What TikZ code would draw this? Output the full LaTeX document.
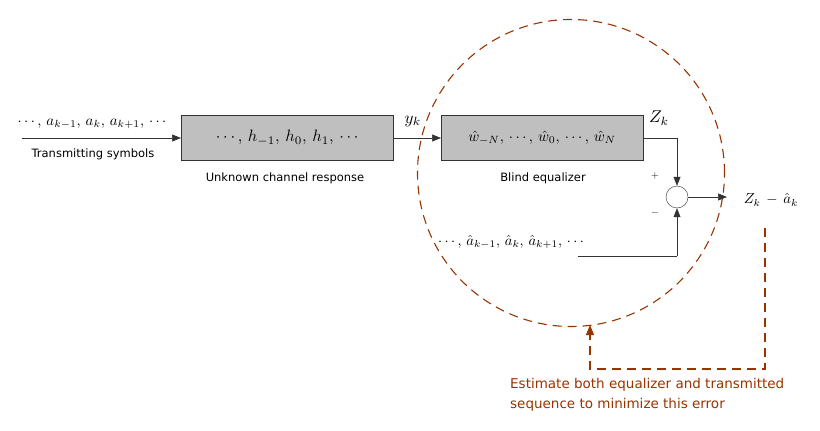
\documentclass[tikz,border=0pt]{standalone}
\usepackage{graphicx}
\usepackage{fontspec}
\setsansfont{DejaVu Sans}
\usetikzlibrary{arrows.meta}
\definecolor{boxgray}{HTML}{BFBFBF}
\definecolor{rust}{HTML}{993300}
\begin{document}
\begin{tikzpicture}[x=1pt,y=-1pt,
  blk/.style={draw=black!80,fill=boxgray,minimum width=#1,minimum height=45pt,inner sep=0pt},
  lbl/.style={font=\sffamily\fontsize{11.5}{13}\selectfont},
  sig/.style={draw=black!80,line width=0.6pt,-{Triangle[length=9pt,width=7pt]}},
  wire/.style={draw=black!80,line width=0.6pt},
  rdash/.style={draw=rust,line width=1.1pt,dash pattern=on 9pt off 6pt}]
\useasboundingbox (0,0) rectangle (820,431);
% dashed circle
\draw[rdash] (571,173) circle[radius=153.5pt];
% input
\coordinate (in) at (22,138);
\node[blk=212pt,anchor=west] (ch) at (181,138) {\scalebox{1.65}{$\cdots,\,h_{-1},\,h_0,\,h_1,\,\cdots$}};
\node[blk=202pt,anchor=west] (eq) at (441,138) {\scalebox{1.5}{$\hat w_{-N},\,\cdots,\,\hat w_0,\,\cdots,\,\hat w_N$}};
\draw[sig] (in) -- (ch.west);
\node (ain) at (92,124) {\scalebox{1.48}{$\cdots,\,a_{k-1},\,a_k,\,a_{k+1},\,\cdots$}};
\node[lbl] (ts) at (93,154) {Transmitting symbols};
\node[lbl] (ucr) at (285,178) {Unknown channel response};
\node[lbl] (be) at (543,178) {Blind equalizer};
\draw[sig] (ch.east) -- (eq.west);
\node (yk) at (413,121) {\scalebox{1.7}{$y_k$}};
\node (zk) at (659,118) {\scalebox{1.7}{$Z_k$}};
% summer
\node[circle,draw=black!80,minimum size=22pt,inner sep=0pt] (sum) at (677,197) {};
\coordinate (c1) at (677,138);
\draw[wire] (eq.east) -- (c1);
\draw[sig] (c1) -- (sum.north);
\node (plus) at (655,176) {$+$};
\node (minus) at (655,213) {$-$};
\coordinate (out) at (727,197);
\draw[sig] (sum.east) -- (out);
\node (err) at (771,200) {\scalebox{1.45}{$Z_k\,-\,\hat a_k$}};
\node (ahat) at (511,242) {\scalebox{1.45}{$\cdots,\,\hat a_{k-1},\,\hat a_k,\,\hat a_{k+1},\,\cdots$}};
\coordinate (b1) at (578,256);
\coordinate (b2) at (677,256);
\draw[wire] (b1) -- (b2);
\draw[sig] (b2) -- (sum.south);
% feedback
\coordinate (f1) at (765,228);
\coordinate (f2) at (765,369);
\coordinate (f3) at (590,369);
\coordinate (f4) at (590,325);
\draw[rdash] (f1) -- (f2) -- (f3) -- (f4);
\draw[draw=rust,fill=rust,line width=1.1pt,-{Triangle[length=10pt,width=8pt]}] (590,340) -- (f4);
\node[text=rust,anchor=north west,align=left,font=\sffamily\fontsize{13.5}{20}\selectfont,inner sep=0pt] (note) at (510,378) {Estimate both equalizer and transmitted\\sequence to minimize this error};
\end{tikzpicture}
\end{document}
